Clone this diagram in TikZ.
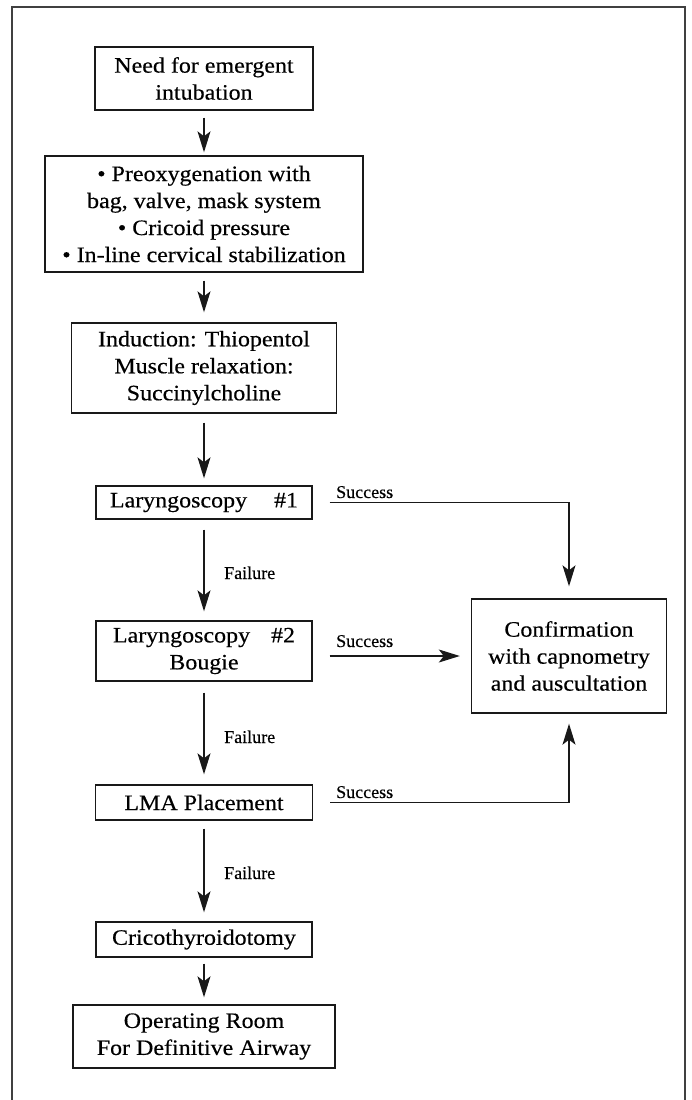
\documentclass[tikz,border=0pt]{standalone}
\usepackage{fontspec}
\setmainfont{Liberation Serif}
\newfontfamily\boxfont{Liberation Serif}[FakeStretch=1.09,FakeBold=0.4]
\newfontfamily\lblfont{Liberation Serif}[FakeBold=0.3]
\usetikzlibrary{arrows.meta}
\begin{document}
\begin{tikzpicture}[x=1pt,y=-1pt,
  box/.style={draw=black!90, line width=1.4pt, inner sep=0pt, align=center,
    font=\boxfont\fontsize{22}{27}\selectfont},
  lbl/.style={font=\lblfont\fontsize{18}{20}\selectfont, inner sep=0pt},
  arr/.style={draw=black!90, line width=1.2pt, -{Stealth[length=21pt,width=13pt,inset=5pt]}},
  ]
\useasboundingbox (0,0) rectangle (692,1100);
\draw[line width=1.8pt, black!75] (12,7) rectangle (685,1103);

\node[box, minimum width=218pt, minimum height=63pt] (n1) at (204,78.5) {Need for emergent\\intubation};
\node[box, minimum width=318pt, minimum height=116pt] (n2) at (204,214) {\textbullet{} Preoxygenation with\\bag, valve, mask system\\\textbullet{} Cricoid pressure\\\textbullet{} In-line cervical stabilization};
\node[box, minimum width=265pt, minimum height=90pt] (n3) at (204,368) {Induction: Thiopentol\\Muscle relaxation:\\Succinylcholine};
\node[box, minimum width=216pt, minimum height=33pt] (n4) at (204,502.5) {Laryngoscopy\hspace{27pt}\#1};
\node[box, minimum width=216pt, minimum height=60pt] (n5) at (204,651) {Laryngoscopy\hspace{21pt}\#2\\Bougie};
\node[box, minimum width=217pt, minimum height=35pt] (n6) at (204,802.5) {LMA Placement};
\node[box, minimum width=216pt, minimum height=35pt] (n7) at (204,939.5) {Cricothyroidotomy};
\node[box, minimum width=262pt, minimum height=63pt] (n8) at (204,1036.5) {Operating Room\\For Definitive Airway};
\node[box, minimum width=195pt, minimum height=114pt] (conf) at (569,656) {Confirmation\\with capnometry\\and auscultation};

\draw[arr, shorten <=7pt, shorten >=3pt] (n1) -- (n2);
\draw[arr, shorten <=8pt, shorten >=10pt] (n2) -- (n3);
\draw[arr, shorten <=9pt, shorten >=7pt] (n3) -- (n4);
\draw[arr, shorten <=10pt, shorten >=9pt] (n4) -- (n5);
\draw[arr, shorten <=11pt, shorten >=10pt] (n5) -- (n6);
\draw[arr, shorten <=8pt, shorten >=9pt] (n6) -- (n7);
\draw[arr, shorten <=6pt, shorten >=7pt] (n7) -- (n8);

\draw[arr, shorten <=17pt, shorten >=12pt] (n4.east) -| (conf.north);
\draw[arr, shorten <=17pt, shorten >=11pt] (n5.east |- conf.west) -- (conf.west);
\draw[arr, shorten <=17pt, shorten >=10pt] (n6.east) -| (conf.south);

\node[lbl, anchor=base west] (s1) at (336,498) {Success};
\node[lbl, anchor=base west] (s2) at (336,647) {Success};
\node[lbl, anchor=base west] (s3) at (336,798) {Success};
\node[lbl, anchor=base west] (f1) at (224,579) {Failure};
\node[lbl, anchor=base west] (f2) at (224,743) {Failure};
\node[lbl, anchor=base west] (f3) at (224,879) {Failure};
\end{tikzpicture}
\end{document}
